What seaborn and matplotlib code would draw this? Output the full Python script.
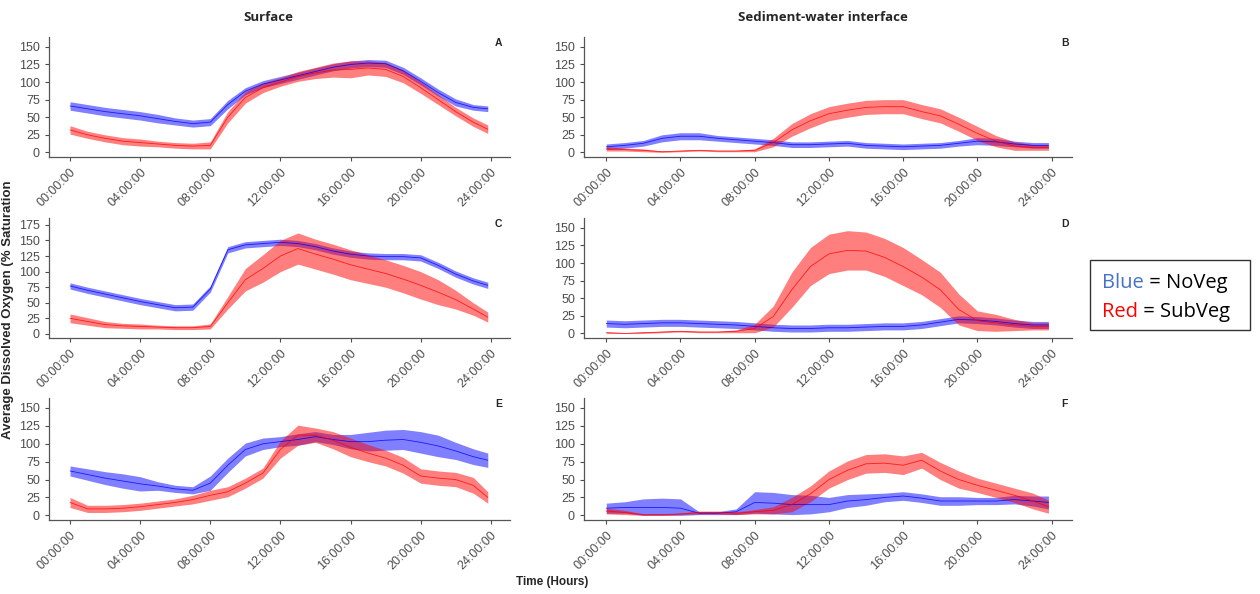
import numpy as np
import pandas as pd
import matplotlib
matplotlib.use("Agg")
import matplotlib.pyplot as plt
from matplotlib.patches import Rectangle
import seaborn as sns

sns.set_style("ticks")
plt.rcParams["font.family"] = ["Liberation Sans", "DejaVu Sans"]

# hours since midnight (last logged sample just before 24:00)
hours = [0, 1, 2, 3, 4, 5, 6, 7, 8, 9, 10, 11, 12, 13, 14, 15, 16, 17, 18, 19, 20, 21, 22, 23, 23.83]
tick_hours = [0, 4, 8, 12, 16, 20, 24]
tick_labels = ["00:00:00", "04:00:00", "08:00:00", "12:00:00", "16:00:00", "20:00:00", "24:00:00"]

# A - Surface, row 1
a_noveg_mean = [66, 62, 58, 55, 52, 48, 44, 41, 43, 68, 87, 97, 103, 109, 115, 121, 125, 127, 126, 116, 101, 85, 71, 64, 62]
a_noveg_sd = [6, 6, 6, 6, 6, 6, 5, 5, 5, 6, 5, 5, 5, 5, 5, 5, 5, 5, 5, 5, 5, 5, 5, 4, 4]
a_subveg_mean = [32, 25, 20, 16, 14, 12, 10, 9, 10, 50, 78, 92, 100, 108, 113, 117, 118, 120, 118, 108, 92, 75, 58, 43, 33]
a_subveg_sd = [6, 5, 5, 5, 5, 4, 4, 4, 5, 8, 8, 7, 6, 7, 8, 10, 12, 10, 10, 9, 8, 7, 6, 6, 6]

# B - Sediment-water interface, row 1
b_noveg_mean = [8, 10, 13, 20, 23, 23, 20, 18, 16, 14, 11, 11, 12, 13, 10, 9, 8, 9, 10, 13, 16, 15, 12, 10, 10]
b_noveg_sd = [4, 4, 4, 5, 5, 5, 4, 4, 4, 4, 4, 4, 4, 4, 4, 4, 4, 4, 4, 4, 5, 5, 4, 4, 4]
b_subveg_mean = [5, 4, 3, 1, 2, 3, 2, 2, 3, 14, 32, 45, 55, 60, 64, 65, 65, 58, 52, 40, 27, 16, 9, 7, 7]
b_subveg_sd = [3, 2, 2, 1, 1, 1, 1, 1, 2, 6, 9, 10, 10, 10, 10, 10, 10, 10, 10, 10, 10, 8, 6, 4, 4]

# C - Surface, row 2
c_noveg_mean = [77, 70, 64, 58, 52, 47, 42, 43, 72, 135, 143, 145, 147, 145, 140, 133, 128, 125, 124, 124, 122, 110, 96, 85, 78]
c_noveg_sd = [5, 5, 5, 5, 5, 5, 5, 5, 5, 5, 5, 5, 5, 5, 5, 5, 5, 5, 5, 5, 5, 5, 5, 5, 5]
c_subveg_mean = [25, 20, 15, 13, 12, 11, 10, 10, 12, 50, 87, 105, 125, 137, 128, 120, 111, 104, 97, 88, 78, 67, 55, 40, 27]
c_subveg_sd = [7, 6, 5, 4, 4, 3, 3, 3, 4, 10, 18, 22, 25, 25, 24, 24, 24, 23, 22, 22, 22, 20, 15, 10, 8]

# D - Sediment-water interface, row 2
d_noveg_mean = [14, 13, 14, 15, 15, 14, 13, 12, 10, 8, 7, 7, 8, 8, 9, 10, 10, 12, 16, 20, 19, 17, 14, 12, 12]
d_noveg_sd = [5, 5, 5, 5, 5, 5, 5, 5, 5, 5, 5, 5, 5, 5, 5, 5, 5, 5, 5, 5, 5, 5, 5, 5, 5]
d_subveg_mean = [1, 0, 1, 2, 3, 2, 2, 3, 7, 24, 62, 95, 113, 118, 117, 108, 95, 80, 62, 34, 18, 15, 12, 10, 10]
d_subveg_sd = [1, 1, 1, 1, 1, 1, 1, 2, 6, 15, 25, 27, 28, 28, 27, 27, 27, 25, 25, 22, 14, 12, 8, 5, 5]

# E - Surface, row 3
e_noveg_mean = [62, 57, 52, 48, 44, 41, 37, 35, 45, 70, 92, 100, 103, 106, 110, 106, 103, 103, 105, 106, 102, 97, 90, 82, 77]
e_noveg_sd = [7, 8, 9, 10, 10, 6, 5, 5, 10, 10, 9, 8, 7, 8, 7, 7, 10, 13, 14, 14, 15, 15, 12, 11, 10]
e_subveg_mean = [18, 9, 9, 10, 12, 15, 18, 22, 28, 33, 45, 59, 92, 112, 112, 105, 95, 87, 80, 70, 55, 52, 50, 42, 25]
e_subveg_sd = [7, 5, 5, 5, 5, 5, 5, 6, 7, 7, 7, 7, 12, 14, 10, 12, 13, 12, 11, 11, 10, 10, 10, 11, 8]

# F - Sediment-water interface, row 3
f_noveg_mean = [10, 11, 11, 11, 10, 3, 3, 5, 18, 17, 15, 15, 15, 20, 22, 25, 27, 24, 20, 20, 20, 20, 22, 20, 18]
f_noveg_sd = [7, 8, 12, 13, 13, 2, 2, 4, 15, 15, 14, 13, 10, 9, 8, 6, 6, 6, 6, 6, 5, 5, 6, 7, 9]
f_subveg_mean = [6, 4, 1, 1, 2, 4, 4, 3, 5, 7, 15, 30, 50, 63, 72, 73, 70, 77, 62, 50, 42, 35, 28, 20, 12]
f_subveg_sd = [4, 3, 1, 1, 1, 2, 2, 2, 3, 5, 10, 11, 12, 13, 13, 13, 13, 11, 12, 12, 10, 10, 10, 11, 9]

panels = [
    ("A", a_noveg_mean, a_noveg_sd, a_subveg_mean, a_subveg_sd),
    ("B", b_noveg_mean, b_noveg_sd, b_subveg_mean, b_subveg_sd),
    ("C", c_noveg_mean, c_noveg_sd, c_subveg_mean, c_subveg_sd),
    ("D", d_noveg_mean, d_noveg_sd, d_subveg_mean, d_subveg_sd),
    ("E", e_noveg_mean, e_noveg_sd, e_subveg_mean, e_subveg_sd),
    ("F", f_noveg_mean, f_noveg_sd, f_subveg_mean, f_subveg_sd),
]

fig = plt.figure(figsize=(12.6, 5.94), dpi=100)

col_x = [(0.0389, 0.3659), (0.4635, 0.3873)]
row_y = [(0.7357, 0.202), (0.431, 0.202), (0.1246, 0.2054)]
colors = {"NoVeg": "blue", "SubVeg": "red"}

for i, (letter, nm, ns, sm, ss) in enumerate(panels):
    r, c = divmod(i, 2)
    ax = fig.add_axes([col_x[c][0], row_y[r][0], col_x[c][1], row_y[r][1]])
    df = pd.DataFrame({
        "hour": hours * 2,
        "do": nm + sm,
        "sd": ns + ss,
        "site": ["NoVeg"] * len(hours) + ["SubVeg"] * len(hours),
    })
    for site, d in df.groupby("site"):
        lo = np.clip(d["do"] - d["sd"], 0, None)
        hi = d["do"] + d["sd"]
        ax.fill_between(d["hour"], lo, hi, color=colors[site], alpha=0.5, lw=0)
    sns.lineplot(data=df, x="hour", y="do", hue="site", palette=colors,
                 lw=0.6, alpha=0.8, legend=False, ax=ax)
    ax.set_xlim(-1.2, 25.1)
    if letter == "C":
        ax.set_ylim(-6.5, 186)
        ax.set_yticks([0, 25, 50, 75, 100, 125, 150, 175])
    else:
        ax.set_ylim(-6.5, 164)
        ax.set_yticks([0, 25, 50, 75, 100, 125, 150])
    ax.set_xticks(tick_hours)
    ax.set_xticklabels(tick_labels, rotation=45, ha="right", rotation_mode="anchor")
    ax.tick_params(labelsize=9, colors="#4d4d4d", length=3, width=0.8)
    ax.set_xlabel("")
    ax.set_ylabel("")
    for s in ["left", "bottom"]:
        ax.spines[s].set_color("#555555")
        ax.spines[s].set_linewidth(0.9)
    sns.despine(ax=ax)
    ax.text(0.975 if c == 0 else 0.985, 0.95, letter, transform=ax.transAxes,
            ha="center", va="center", fontsize=7.5, fontweight="bold")

fig.text(0.2127, 0.971, "Surface", ha="center", va="center", fontsize=9.5,
         fontweight="bold", family=["Open Sans", "DejaVu Sans"])
fig.text(0.653, 0.971, "Sediment-water interface", ha="center", va="center",
         fontsize=9.5, fontweight="bold", family=["Open Sans", "DejaVu Sans"])
fig.text(0.006, 0.478, "Average Dissolved Oxygen (% Saturation", rotation=90,
         ha="center", va="center", fontsize=9.5, fontweight="bold")
fig.text(0.438, 0.02, "Time (Hours)", ha="center", va="center", fontsize=8.5,
         fontweight="bold")

# text legend box
fig.patches.append(Rectangle((1090 / 1260, 1 - 330 / 594), 160 / 1260, 70 / 594,
                             transform=fig.transFigure, fill=False,
                             edgecolor="#333333", lw=1.0))
leg_font = dict(fontsize=14.5, family=["Open Sans", "DejaVu Sans"])
t1 = fig.text(1102 / 1260, 1 - 288 / 594, "Blue", color="#4472c4", va="baseline", **leg_font)
t2 = fig.text(1102 / 1260, 1 - 317 / 594, "Red", color="#ff0000", va="baseline", **leg_font)
plt.annotate(" = NoVeg", xy=(1, 0), xycoords=t1, va="bottom", ha="left",
             color="black", annotation_clip=False, **leg_font)
plt.annotate(" = SubVeg", xy=(1, 0), xycoords=t2, va="bottom", ha="left",
             color="black", annotation_clip=False, **leg_font)

fig.savefig("out.png", dpi=100)
